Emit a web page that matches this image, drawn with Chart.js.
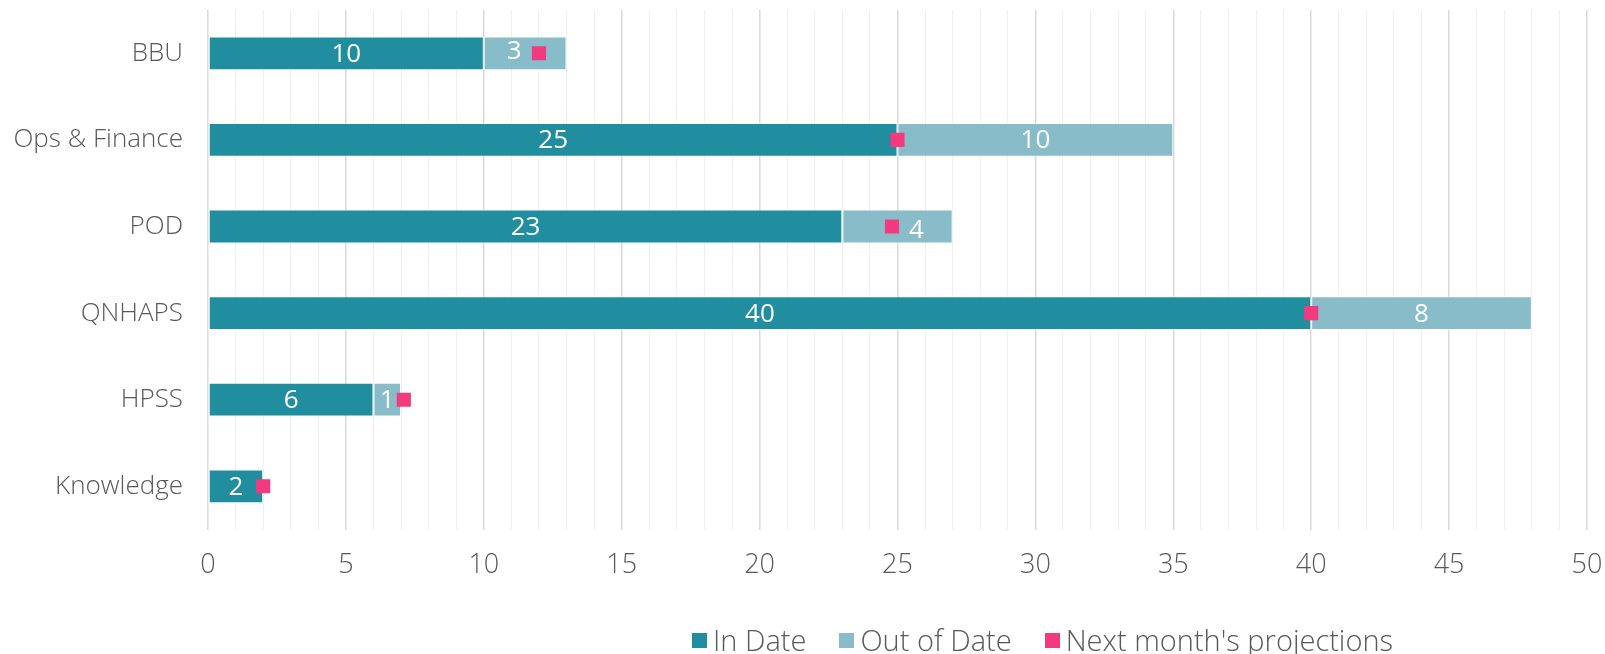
<!DOCTYPE html>
<html>
<head>
<meta charset="utf-8">
<script src="https://cdn.jsdelivr.net/npm/chart.js@4.4.1/dist/chart.umd.min.js"></script>
<style>
  body { margin: 0; background: #fff; }
  #wrap { position: relative; width: 1605px; height: 654px; }
  #legend {
    position: absolute; left: 692px; top: 624px;
    display: flex; align-items: center;
    font-family: "Open Sans", sans-serif; font-weight: 300; font-size: 29px; color: #595959;
    line-height: 32px; white-space: nowrap;
  }
  .item { display: flex; align-items: center; margin-right: 33px; }
  .box { width: 15px; height: 15px; margin-right: 6px; }
</style>
</head>
<body>
<div id="wrap">
  <canvas id="impactChart" width="1605" height="654"></canvas>
  <div id="legend"></div>
</div>
<script>
// Datos del gráfico
const categories = ["BBU", "Ops & Finance", "POD", "QNHAPS", "HPSS", "Knowledge"];
const inDate = [10, 25, 23, 40, 6, 2];
const outOfDate = [3, 10, 4, 8, 1, 0];
const projections = [12, 25, 24.8, 40, 7.1, 2];
const seriesNames = ["In Date", "Out of Date", "Next month's projections"];
const seriesColors = ["#208e9e", "#88bcc8", "#f33a7f"];

const textColor = "#595959";
const fontFamily = '"Open Sans", sans-serif';

// Pequeños ajustes de posición de etiquetas (px), como en el original
const labelNudge = { "1-0": [-11, -3], "1-2": [19, 3] };

// Etiquetas blancas centradas en cada segmento
const barLabels = {
  id: "barLabels",
  afterDatasetDraw(chart, args) {
    const meta = args.meta;
    if (meta.type !== "bar") return;
    const ctx = chart.ctx;
    const values = chart.data.datasets[args.index].data;
    ctx.save();
    ctx.fillStyle = "#ffffff";
    ctx.font = "26px " + fontFamily;
    ctx.textAlign = "center";
    ctx.textBaseline = "middle";
    meta.data.forEach((bar, i) => {
      if (!values[i]) return;
      const nudge = labelNudge[args.index + "-" + i] || [0, 0];
      const x = (bar.x + bar.base) / 2 + nudge[0];
      ctx.fillText(String(values[i]), x, bar.y + 1 + nudge[1]);
    });
    ctx.restore();
  }
};

function renderChart() {
  const ctx = document.getElementById("impactChart").getContext("2d");
  new Chart(ctx, {
    type: "bar",
    data: {
      labels: categories,
      datasets: [
        {
          label: seriesNames[0],
          data: inDate,
          backgroundColor: seriesColors[0],
          borderColor: "rgba(255,255,255,0.55)",
          borderWidth: 1,
          borderSkipped: false,
          order: 1
        },
        {
          label: seriesNames[1],
          data: outOfDate,
          backgroundColor: seriesColors[1],
          borderColor: "rgba(255,255,255,0.55)",
          borderWidth: 1,
          borderSkipped: false,
          order: 1
        },
        {
          type: "line",
          label: seriesNames[2],
          data: projections,
          indexAxis: "y",
          stack: "proj",
          showLine: false,
          pointStyle: "rect",
          pointRadius: 10,
          pointHoverRadius: 10,
          pointBackgroundColor: seriesColors[2],
          pointBorderWidth: 0,
          order: 0
        }
      ]
    },
    options: {
      indexAxis: "y",
      responsive: false,
      animation: false,
      layout: { padding: { top: 8, right: 18, bottom: 52, left: 0 } },
      plugins: {
        legend: { display: false },
        tooltip: { enabled: false }
      },
      datasets: {
        bar: { barPercentage: 0.39, categoryPercentage: 1 }
      },
      scales: {
        x: {
          stacked: true,
          min: 0,
          max: 50,
          border: { display: false },
          grid: {
            color: c => (c.tick && c.tick.value % 5 === 0 ? "#d9d9d9" : "#efefef"),
            lineWidth: c => (c.tick && c.tick.value % 5 === 0 ? 1.5 : 1),
            drawTicks: false
          },
          ticks: {
            stepSize: 1,
            autoSkip: false,
            maxRotation: 0,
            padding: 20,
            color: textColor,
            font: { family: fontFamily, size: 27, weight: 300 },
            callback: v => (v % 5 === 0 ? String(v) : "")
          },
          afterFit: s => { s.paddingLeft = 0; s.paddingRight = 0; }
        },
        y: {
          stacked: true,
          border: { display: false },
          grid: { display: false, drawTicks: false },
          ticks: {
            padding: 25,
            color: textColor,
            font: { family: fontFamily, size: 26, weight: 300 }
          },
          afterFit: s => { s.width = 208; s.paddingTop = 0; s.paddingBottom = 0; }
        }
      }
    },
    plugins: [barLabels]
  });
}

// Leyenda en HTML
function renderLegend() {
  const legend = document.getElementById("legend");
  seriesNames.forEach((name, i) => {
    const item = document.createElement("div");
    item.className = "item";
    const box = document.createElement("span");
    box.className = "box";
    box.style.background = seriesColors[i];
    const text = document.createElement("span");
    text.innerText = name;
    item.appendChild(box);
    item.appendChild(text);
    legend.appendChild(item);
  });
}

renderChart();
renderLegend();
</script>
</body>
</html>
